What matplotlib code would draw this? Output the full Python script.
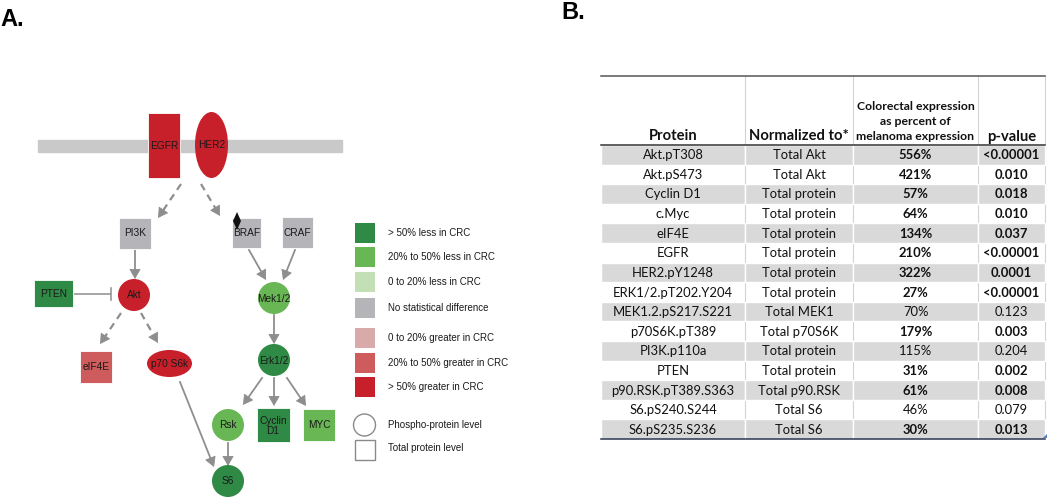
import matplotlib
matplotlib.use("Agg")
import matplotlib.pyplot as plt
from matplotlib.patches import Rectangle, Ellipse, Circle, Polygon, FancyArrowPatch

# ---------------- data ----------------
panel_labels = ["A.", "B."]

node_names = ["EGFR", "HER2", "PI3K", "BRAF", "CRAF", "PTEN", "Akt", "Mek1/2",
              "eIF4E", "p70 S6k", "Erk1/2", "Rsk", "Cyclin\nD1", "MYC", "S6"]
node_class = [6, 6, 3, 3, 3, 0, 6, 1, 5, 6, 0, 1, 0, 1, 0]   # index into legend classes

legend_labels = ["> 50% less in CRC", "20% to 50% less in CRC", "0 to 20% less in CRC",
                 "No statistical difference", "0 to 20% greater in CRC",
                 "20% to 50% greater in CRC", "> 50% greater in CRC"]
shape_labels = ["Phospho-protein level", "Total protein level"]

edges = [("EGFR", "PI3K", "dash"), ("HER2", "BRAF", "dash"), ("PI3K", "Akt", "solid"),
         ("BRAF", "Mek1/2", "solid"), ("CRAF", "Mek1/2", "solid"),
         ("Akt", "eIF4E", "dash"), ("Akt", "p70 S6k", "dash"), ("Mek1/2", "Erk1/2", "solid"),
         ("Erk1/2", "Rsk", "solid"), ("Erk1/2", "Cyclin\nD1", "solid"), ("Erk1/2", "MYC", "solid"),
         ("p70 S6k", "S6", "solid"), ("Rsk", "S6", "solid"), ("PTEN", "Akt", "inhibit")]

col_headers = ["Protein", "Normalized to*",
               "Colorectal expression\nas percent of\nmelanoma expression", "p-value"]
proteins = ["Akt.pT308", "Akt.pS473", "Cyclin D1", "c.Myc", "eIF4E", "EGFR", "HER2.pY1248",
            "ERK1/2.pT202.Y204", "MEK1.2.pS217.S221", "p70S6K.pT389", "PI3K.p110a", "PTEN",
            "p90.RSK.pT389.S363", "S6.pS240.S244", "S6.pS235.S236"]
normalized_to = ["Total Akt", "Total Akt", "Total protein", "Total protein", "Total protein",
                 "Total protein", "Total protein", "Total protein", "Total MEK1", "Total p70S6K",
                 "Total protein", "Total protein", "Total p90.RSK", "Total S6", "Total S6"]
percent = ["556%", "421%", "57%", "64%", "134%", "210%", "322%", "27%", "70%", "179%",
           "115%", "31%", "61%", "46%", "30%"]
p_values = ["<0.00001", "0.010", "0.018", "0.010", "0.037", "<0.00001", "0.0001", "<0.00001",
            "0.123", "0.003", "0.204", "0.002", "0.008", "0.079", "0.013"]
significant = [True, True, True, True, True, True, True, True, False, True, False, True,
               True, False, True]

# ---------------- styles / layout ----------------
class_colors = ["#2f8a45", "#69b654", "#c2dfb5", "#b4b4b9", "#d8aaaa", "#cf5c5c", "#c8202b"]

layout = {  # shape, cx, cy, w, h
    "EGFR": ("rect", 164, 145.5, 32, 65),
    "HER2": ("ell", 211.5, 145, 33, 66),
    "PI3K": ("rect", 135, 233, 32, 31),
    "BRAF": ("rect", 246.5, 233, 29, 30),
    "CRAF": ("rect", 297.5, 232.5, 31, 31),
    "PTEN": ("rect", 53.5, 293.5, 39, 27),
    "Akt": ("ell", 134, 295, 32, 32),
    "Mek1/2": ("ell", 274, 298, 32, 32),
    "eIF4E": ("rect", 96, 367, 32, 32),
    "p70 S6k": ("ell", 169.5, 363.5, 45, 27),
    "Erk1/2": ("ell", 274, 360, 32, 32),
    "Rsk": ("ell", 228, 425, 32, 32),
    "Cyclin\nD1": ("rect", 273, 425, 33, 34),
    "MYC": ("rect", 319, 425, 32, 32),
    "S6": ("ell", 228, 481, 32, 32),
}
edge_points = {
    ("EGFR", "PI3K"): (181, 184, 158, 218),
    ("HER2", "BRAF"): (201, 184, 220, 216),
    ("PI3K", "Akt"): (135, 250, 135, 279),
    ("BRAF", "Mek1/2"): (249, 250, 266, 280),
    ("CRAF", "Mek1/2"): (295, 250, 283, 280),
    ("Akt", "eIF4E"): (121, 313, 100, 344),
    ("Akt", "p70 S6k"): (141, 313, 158, 343),
    ("Mek1/2", "Erk1/2"): (274, 315, 274, 344),
    ("Erk1/2", "Rsk"): (262, 378, 243, 405),
    ("Erk1/2", "Cyclin\nD1"): (274, 378, 274, 406),
    ("Erk1/2", "MYC"): (287, 378, 306, 406),
    ("p70 S6k", "S6"): (180, 382, 214, 467),
    ("Rsk", "S6"): (228, 443, 228, 466),
    ("PTEN", "Akt"): (74, 294, 111, 294),
}

ARROW = "#8e8e8e"
DIAG_FONT = ["Liberation Sans", "DejaVu Sans"]
TAB_FONT = ["Lato", "DejaVu Sans"]

fig = plt.figure(figsize=(10.5, 4.99), dpi=100)
ax = fig.add_axes([0, 0, 1, 1])
ax.set_xlim(0, 1050)
ax.set_ylim(499, 0)
ax.axis("off")

# panel labels
ax.text(0, 19.5, panel_labels[0], fontsize=17, fontweight="bold", family=DIAG_FONT, va="center", ha="left")
ax.text(561, 12, panel_labels[1], fontsize=17, fontweight="bold", family=DIAG_FONT, va="center", ha="left")

# membrane
ax.add_patch(Rectangle((38, 140), 304, 12, color="#c9c9c9", zorder=1))

# arrows
def draw_arrow(x0, y0, x1, y1, kind):
    if kind == "inhibit":
        ax.plot([x0, x1], [y0, y1], color=ARROW, lw=1.1, zorder=2, solid_capstyle="butt")
        ax.plot([x1, x1], [y1 - 6, y1 + 6], color=ARROW, lw=1.1, zorder=2)
        return
    dx, dy = x1 - x0, y1 - y0
    L = (dx ** 2 + dy ** 2) ** 0.5
    ux, uy = dx / L, dy / L
    hl = 8
    if kind == "dash":
        ax.plot([x0, x1 - ux * hl], [y0, y1 - uy * hl], color=ARROW, lw=1.6,
                linestyle=(0, (3.2, 2.4)), zorder=2)
    else:
        ax.plot([x0, x1 - ux * hl], [y0, y1 - uy * hl], color=ARROW, lw=1.3, zorder=2)
    ax.add_patch(FancyArrowPatch((x1 - ux * (hl + 1), y1 - uy * (hl + 1)), (x1, y1),
                                 arrowstyle="-|>,head_length=0.7,head_width=0.4",
                                 mutation_scale=9, color=ARROW, lw=0.6,
                                 shrinkA=0, shrinkB=0, zorder=2))

for a, b, kind in edges:
    draw_arrow(*edge_points[(a, b)], kind)

# nodes
for name, cls in zip(node_names, node_class):
    shape, cx, cy, w, h = layout[name]
    col = class_colors[cls]
    if shape == "rect":
        ax.add_patch(Rectangle((cx - w / 2, cy - h / 2), w, h, facecolor=col,
                               edgecolor="#ffffff", lw=0.6, zorder=3))
    else:
        ax.add_patch(Ellipse((cx, cy), w, h, facecolor=col, edgecolor="none", zorder=3))
    ax.text(cx, cy + 0.5, name, fontsize=7.3, color="#1a1a1a", family=DIAG_FONT,
            ha="center", va="center", zorder=4, linespacing=1.0)

# BRAF mutation diamond
ax.add_patch(Polygon([(237, 212), (241, 221), (237, 230), (233, 221)], closed=True,
                     facecolor="#111111", edgecolor="none", zorder=5))

# legend
legend_y = [233, 257, 282, 308, 338, 363, 387]
for lab, col, y in zip(legend_labels, class_colors, legend_y):
    ax.add_patch(Rectangle((355, y - 10), 20, 20, facecolor=col, edgecolor="none", zorder=3))
    ax.text(388, y, lab, fontsize=7.0, family=DIAG_FONT, color="#1a1a1a", va="center", ha="left")
ax.add_patch(Circle((364.5, 425), 11, facecolor="white", edgecolor="#8a8a8a", lw=1.0, zorder=3))
ax.text(388, 425, shape_labels[0], fontsize=7.0, family=DIAG_FONT, color="#1a1a1a", va="center")
ax.add_patch(Rectangle((355, 439.5), 20, 20, facecolor="white", edgecolor="#8a8a8a", lw=1.0, zorder=3))
ax.text(388, 448, shape_labels[1], fontsize=7.0, family=DIAG_FONT, color="#1a1a1a", va="center")

# ---------------- table ----------------
col_x = [601, 745, 853, 978, 1045]
head_top, head_bot = 76, 144.5
row_top, row_h = 145, 19.6
n = len(proteins)
tab_bot = row_top + n * row_h

for x in col_x[1:]:
    ax.plot([x, x], [head_top, tab_bot], color="#d2d2d2", lw=0.8, zorder=1)

for i in range(n):
    y0 = row_top + i * row_h
    if i % 2 == 0:
        for j in range(4):
            ax.add_patch(Rectangle((col_x[j], y0), col_x[j + 1] - col_x[j], row_h,
                                   facecolor="#d9d9d9", edgecolor="white", lw=1.0, zorder=2))
    yc = y0 + row_h / 2 + 0.5
    cells = [proteins[i], normalized_to[i], percent[i], p_values[i]]
    for j, t in enumerate(cells):
        bold = significant[i] and j >= 2
        ax.text((col_x[j] + col_x[j + 1]) / 2, yc, t, fontsize=9.4, family=TAB_FONT,
                fontweight="bold" if bold else "normal", color="#111111",
                ha="center", va="center", zorder=4)

ax.plot([col_x[0], col_x[-1]], [head_top, head_top], color="#555555", lw=1.1, zorder=5)
ax.plot([col_x[0], col_x[-1]], [head_bot, head_bot], color="#333333", lw=1.1, zorder=5)
ax.plot([col_x[0], col_x[-1]], [tab_bot, tab_bot], color="#2b3550", lw=1.1, zorder=5)

for j, h in enumerate(col_headers):
    xc = (col_x[j] + col_x[j + 1]) / 2
    if "\n" in h:
        ax.text(xc, 142, h, fontsize=8.8, family=TAB_FONT, fontweight="bold", color="#111111",
                ha="center", va="bottom", linespacing=1.45, zorder=4)
    else:
        ax.text(xc, 136.5, h, fontsize=10.6, family=TAB_FONT, fontweight="bold", color="#111111",
                ha="center", va="center", zorder=4)

# tiny resize handle mark
ax.add_patch(Polygon([(1047, tab_bot - 5), (1047, tab_bot - 1), (1043, tab_bot - 1)], closed=True,
                     facecolor="#5a7bc0", edgecolor="none", zorder=6))

fig.savefig("out.png", dpi=100)
